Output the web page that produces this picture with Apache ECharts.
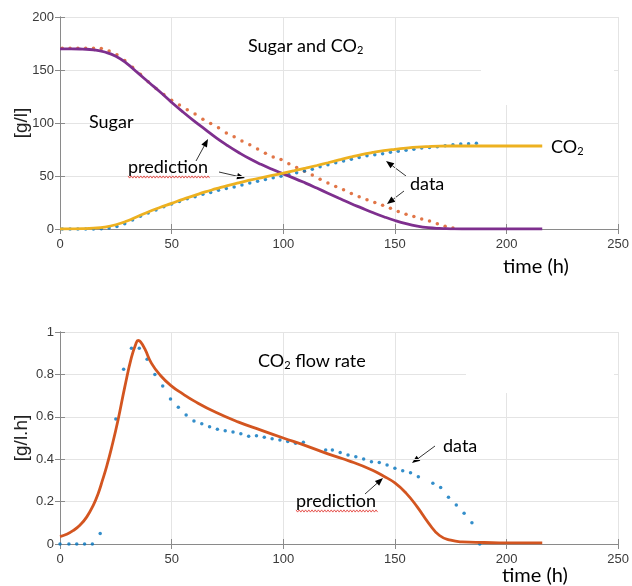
<!DOCTYPE html>
<html>
<head>
<meta charset="utf-8">
<script src="https://cdn.jsdelivr.net/npm/echarts@6/dist/echarts.min.js"></script>
<style>
  html, body { margin: 0; padding: 0; background: #fff; }
  #chart { width: 632px; height: 586px; }
</style>
</head>
<body>
<div id="chart"></div>
<script>
// ---- top panel: sugar and CO2 (g/l) ----
const topPredTime = [0, 5, 10, 15, 20, 25, 30, 35, 40, 45, 50, 55, 60, 65, 70, 75, 80, 85, 90, 95,
  100, 105, 110, 115, 120, 125, 130, 135, 140, 145, 150, 155, 160, 165, 170, 175, 180, 190, 200, 210, 216]
const sugarPred = [170, 170, 169.7, 169, 167, 163, 156, 147, 138, 129, 119.5, 110.5, 102, 94, 86, 78.8, 72.2, 66.2, 61, 56.3,
  52, 47.8, 43.3, 38.6, 33.8, 29, 24.3, 19.9, 15.6, 11.6, 8, 5, 2.7, 1.2, 0.5, 0.2, 0, 0, 0, 0, 0]
const co2Pred = [0, 0.1, 0.3, 0.8, 1.8, 4, 7.5, 12, 16.5, 20.5, 24.2, 28, 31.5, 35, 38, 41, 43.6, 46, 48.3, 50.5,
  52.7, 55, 57.4, 59.9, 62.5, 65.2, 67.8, 70.2, 72.2, 73.9, 75.2, 76.3, 77.2, 77.8, 78.2, 78.3, 78.3, 78.3, 78.3, 78.3, 78.3]

const sugarDataTime = [1, 4.5, 8, 11.5, 15, 18.5, 22, 25.5, 29, 32.5, 36, 39.5, 43, 46.5, 50, 53.5, 57, 60.5, 64, 67.5,
  71, 74.5, 78, 81.5, 85, 88.5, 92, 95.5, 99, 102.5, 106, 109.5, 113, 116.5, 120, 123.5, 127, 130.5, 134, 137.5,
  141, 144.5, 148, 151.5, 155, 158.5, 162, 165.5, 169, 172.5, 176]
const sugarData = [170.5, 170.5, 170.5, 170.5, 170.5, 170.3, 168, 164.5, 159, 152.5, 146, 139, 132.5, 127, 121.5, 117, 112.5, 108.5, 103.5, 99.5,
  95.5, 90.5, 87, 83, 79.5, 75.5, 71.5, 68, 65.5, 61.5, 58, 54.5, 51, 47, 43.5, 40, 37, 33.5, 30.5, 27.5,
  25, 22.5, 19.5, 16.5, 14, 11.7, 9.5, 7.5, 5, 2.7, 1]

const co2DataTime = [1, 4.5, 8, 11.5, 15, 18.5, 22, 25.5, 29, 32.5, 36, 39.5, 43, 46.5, 50, 53.5, 57, 60.5, 64, 67.5,
  71, 74.5, 78, 81.5, 85, 88.5, 92, 95.5, 99, 102.5, 106, 109.5, 113, 116.5, 120, 123.5, 127, 130.5, 134, 137.5,
  141, 144.5, 148, 151.5, 155, 158.5, 162, 165.5, 169, 172.5, 176, 179.5, 183, 186.5]
const co2Data = [0, 0, 0, 0, 0, 0.3, 1, 2.3, 5, 8.5, 12, 15, 18, 21, 23.5, 26, 28.5, 30.5, 32.7, 34.5,
  36.5, 38.2, 39.7, 41.5, 43.5, 45, 46.7, 48.3, 49.8, 51.3, 53, 54.8, 56.3, 58.7, 60.5, 62.5, 64.2, 65.8, 67.5, 69,
  70, 71, 72.3, 73.3, 74.3, 75.3, 76.3, 77, 77.7, 78.5, 79.5, 80.1, 80.5, 80.8]

// ---- bottom panel: CO2 flow rate (g/l.h) ----
const flowPredTime = [0, 3, 6, 9, 12, 15, 17, 19, 21, 23, 26, 29, 32, 34, 35, 36, 38, 41, 45, 50,
  55, 60, 70, 80, 90, 100, 110, 120, 130, 140, 145, 150, 155, 160, 165, 170, 175, 180, 190, 200, 216]
const flowPred = [0.035, 0.046, 0.064, 0.09, 0.128, 0.185, 0.235, 0.3, 0.37, 0.45, 0.585, 0.74, 0.88, 0.945, 0.96, 0.955, 0.92, 0.852, 0.795, 0.745,
  0.708, 0.675, 0.62, 0.575, 0.537, 0.5, 0.464, 0.425, 0.39, 0.348, 0.32, 0.288, 0.24, 0.175, 0.1, 0.04, 0.018, 0.01, 0.007, 0.005, 0.005]

const flowDataTime = [0, 4, 7.5, 11, 14.5, 18, 25, 28.5, 32, 35.5, 39, 42.5, 46, 49.5, 53, 56.5, 60, 63.5, 67, 70.5,
  74, 77.5, 81, 84.5, 88, 91.5, 95, 98.5, 102, 105.5, 109, 119, 122, 125.5, 129, 132.5, 136, 139.5, 143, 146.5,
  150, 153.5, 157, 160.5, 167, 170.5, 174, 177.5, 181, 184.5, 188]
const flowData = [0, 0, 0, 0, 0, 0.05, 0.59, 0.824, 0.923, 0.923, 0.871, 0.8, 0.745, 0.684, 0.645, 0.608, 0.58, 0.567, 0.553, 0.541,
  0.534, 0.528, 0.52, 0.508, 0.511, 0.503, 0.497, 0.49, 0.483, 0.475, 0.48, 0.443, 0.443, 0.432, 0.42, 0.412, 0.401, 0.388, 0.384, 0.373,
  0.357, 0.346, 0.336, 0.317, 0.286, 0.266, 0.22, 0.184, 0.145, 0.1, 0]

const timeTicks = { min: 0, max: 250, interval: 50 }
const topTicks = { min: 0, max: 200, interval: 50 }
const flowTicks = { min: 0, max: 1, interval: 0.2 }

const pairs = (xs, ys) => xs.map((x, i) => [x, ys[i]])

const boxColor = '#8a8a8a'
const gridColor = '#e4e4e4'
const tickFont = { fontFamily: 'Liberation Sans', fontSize: 13, color: '#3a3a3a' }
const noteFont = 'Lato'

// main axis (with labels + grid) or mirror axis (box side with inward ticks)
const axis = (gridIndex, position, ticks, main, margin) => ({
  type: 'value',
  gridIndex,
  position,
  ...ticks,
  axisLine: { show: true, lineStyle: { color: boxColor, width: 1 } },
  axisTick: { show: true, inside: true, length: 5, lineStyle: { color: boxColor } },
  axisLabel: main ? { show: true, margin, ...tickFont } : { show: false },
  splitLine: { show: main, lineStyle: { color: gridColor, width: 1 } },
})

const lineSeries = (x, y, data, color) => ({
  type: 'line', xAxisIndex: x, yAxisIndex: y, data,
  symbol: 'none', smooth: 0.5,
  lineStyle: { color, width: 2.8 }, itemStyle: { color }, z: 4,
})

const dotSeries = (x, y, data, color) => ({
  type: 'scatter', xAxisIndex: x, yAxisIndex: y, data,
  symbol: 'circle', symbolSize: 3.5, itemStyle: { color }, z: 3,
})

// decorations: annotation text, arrows, spell-check squiggles
const note = (text, x, y, size = 18, extra = {}) => ({
  type: 'text', x, y, z: 10,
  style: {
    text, fill: '#000', font: `${size}px ${noteFont}`, verticalAlign: 'middle',
    rich: {
      t: { fontSize: size, fontFamily: noteFont, lineHeight: 22, verticalAlign: 'middle' },
      s: { fontSize: Math.round(size * 0.62), fontFamily: noteFont, padding: [9, 0, 0, 0] },
    },
    ...extra,
  },
})

const arrow = (x1, y1, x2, y2) => {
  const a = Math.atan2(y2 - y1, x2 - x1)
  const len = 8, half = 3.2
  const bx = x2 - len * Math.cos(a), by = y2 - len * Math.sin(a)
  return {
    type: 'group', z: 10,
    children: [
      { type: 'line', shape: { x1, y1, x2: bx, y2: by }, style: { stroke: '#000', lineWidth: 0.8 } },
      {
        type: 'polygon',
        shape: { points: [[x2, y2], [bx + half * Math.sin(a), by - half * Math.cos(a)], [bx - half * Math.sin(a), by + half * Math.cos(a)]] },
        style: { fill: '#000' },
      },
    ],
  }
}

const squiggle = (x1, x2, y) => {
  const pts = []
  for (let x = x1, k = 0; x <= x2; x += 1.6, k++) pts.push([x, y + (k % 2 ? 1.1 : -1.1)])
  return { type: 'polyline', z: 10, shape: { points: pts }, style: { stroke: '#e0302a', lineWidth: 0.8, fill: null } }
}

const mask = (x, y, width, height) => ({
  type: 'rect', z: 1, shape: { x, y, width, height }, style: { fill: '#fff' },
})

const chart = echarts.init(document.getElementById('chart'), null, { renderer: 'canvas' })

chart.setOption({
  animation: false,
  backgroundColor: '#fff',
  grid: [
    { left: 60, top: 17, width: 561, height: 212 },
    { left: 60, top: 332, width: 561, height: 212 },
  ],
  xAxis: [
    axis(0, 'bottom', timeTicks, true, 9),
    axis(0, 'top', timeTicks, false),
    axis(1, 'bottom', timeTicks, true, 9),
    axis(1, 'top', timeTicks, false),
  ],
  yAxis: [
    axis(0, 'left', topTicks, true, 6),
    axis(0, 'right', topTicks, false),
    axis(1, 'left', flowTicks, true, 6),
    axis(1, 'right', flowTicks, false),
  ],
  series: [
    dotSeries(0, 0, pairs(sugarDataTime, sugarData), '#D95319'),
    dotSeries(0, 0, pairs(co2DataTime, co2Data), '#0072BD'),
    lineSeries(0, 0, pairs(topPredTime, sugarPred), '#7E2F8E'),
    lineSeries(0, 0, pairs(topPredTime, co2Pred), '#EDB120'),
    dotSeries(2, 2, pairs(flowDataTime, flowData), '#0072BD'),
    lineSeries(2, 2, pairs(flowPredTime, flowPred), '#D35520'),
  ],
  graphic: [
    // white boxes that hide part of the grid (title boxes in the original figure)
    mask(481, 18, 133, 87),
    mask(466, 333, 148, 60),

    note('{t|Sugar and CO}{s|2}', 248, 46),
    note('Sugar', 89, 122),
    note('prediction', 128, 167),
    squiggle(128, 211, 177),
    arrow(196, 161, 208, 139),
    arrow(219, 172, 245, 178),
    note('data', 410, 184),
    arrow(406, 176, 386, 161),
    arrow(404, 191, 387, 204),
    note('{t|CO}{s|2}', 551, 147),
    note('time (h)', 503, 267, 20),
    {
      type: 'text', x: 22, y: 123, rotation: Math.PI / 2, z: 10,
      style: { text: '[g/l]', fill: '#222', font: '19px Liberation Sans', align: 'center', verticalAlign: 'middle' },
    },

    note('{t|CO}{s|2}{t| flow rate}', 258, 361),
    note('data', 443, 446),
    arrow(435, 446, 412, 463),
    note('prediction', 296, 501),
    squiggle(296, 379, 511),
    arrow(365, 494, 383, 478),
    note('time (h)', 502, 576, 20),
    {
      type: 'text', x: 22, y: 438, rotation: Math.PI / 2, z: 10,
      style: { text: '[g/l.h]', fill: '#222', font: '19px Liberation Sans', align: 'center', verticalAlign: 'middle' },
    },
  ],
})
</script>
</body>
</html>
